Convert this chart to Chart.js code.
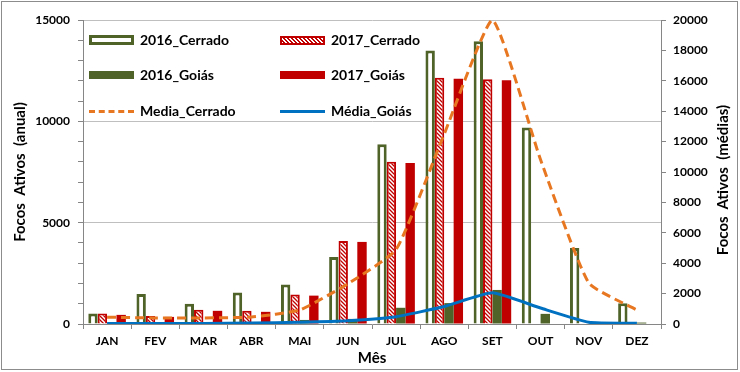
<!DOCTYPE html>
<html>
<head>
<meta charset="utf-8">
<script src="https://cdn.jsdelivr.net/npm/chart.js@4/dist/chart.umd.min.js"></script>
<style>
  body { margin: 0; background: #fff; overflow: hidden; }
  #wrap { position: relative; width: 740px; height: 372px; }
  #frame { position: absolute; left: 1px; top: 1px; width: 735px; height: 367px; border: 1px solid #8c8c8c; pointer-events: none; }
  .leg { position: absolute; font: bold 14px Lato, sans-serif; color: #000; white-space: nowrap; }
  .sw { position: absolute; }
  #rtitle { position: absolute; left: 722px; top: 180px; transform: translate(-50%, -50%) rotate(-90deg);
            font: bold 15px Lato, sans-serif; color: #000; white-space: pre; }
</style>
</head>
<body>
<div id="wrap">
  <canvas id="chart" width="740" height="372"></canvas>
  <div id="frame"></div>
  <div id="legend"></div>
  <div id="rtitle">Focos  Ativos  (médias)</div>
</div>
<script>
const months = ['JAN', 'FEV', 'MAR', 'ABR', 'MAI', 'JUN', 'JUL', 'AGO', 'SET', 'OUT', 'NOV', 'DEZ'];

// annual counts (left axis)
const cerrado2016 = [520, 1480, 1000, 1550, 1950, 3300, 8870, 13500, 13950, 9700, 3750, 1030];
const cerrado2017 = [520, 400, 700, 650, 1450, 4100, 8000, 12150, 12080, null, null, null];
const goias2016 = [60, 40, 100, 100, 200, 250, 800, 1030, 1680, 500, 20, 70];
const goias2017 = [450, 350, 650, 600, 1400, 4050, 7950, 12100, 12030, null, null, null];

// averages (right axis)
const mediaCerrado = [450, 400, 400, 460, 920, 2650, 4900, 12500, 20000, 10800, 2700, 920];
const mediaGoias = [30, 30, 40, 60, 120, 220, 480, 1150, 2050, 1050, 120, 50];

const green = '#4f6228';
const red = '#c00000';
const orange = '#e87722';
const blue = '#0070c0';
const axisGray = '#868686';
const gridGray = '#bfbfbf';

// red diagonal hatch for 2017_Cerrado
function hatch() {
  const c = document.createElement('canvas');
  c.width = 4; c.height = 4;
  const g = c.getContext('2d');
  g.fillStyle = '#fff';
  g.fillRect(0, 0, 4, 4);
  g.strokeStyle = red;
  g.lineWidth = 1.3;
  g.beginPath();
  g.moveTo(-1, -1); g.lineTo(5, 5);
  g.moveTo(-1, 3); g.lineTo(1, 5);
  g.moveTo(3, -1); g.lineTo(5, 1);
  g.stroke();
  return g.createPattern(c, 'repeat');
}
const hatchFill = hatch();

const tickFont = { family: 'Lato, sans-serif', size: 12, weight: 'bold' };
const titleFont = { family: 'Lato, sans-serif', size: 15, weight: 'bold' };

new Chart(document.getElementById('chart'), {
  data: {
    labels: months,
    datasets: [
      { type: 'line', label: 'Media_Cerrado', data: mediaCerrado, yAxisID: 'y1', order: 0,
        borderColor: orange, borderWidth: 3, borderDash: [9, 5], pointRadius: 0, tension: 0.15, fill: false },
      { type: 'line', label: 'Média_Goiás', data: mediaGoias, yAxisID: 'y1', order: 0,
        borderColor: blue, borderWidth: 3, pointRadius: 0, tension: 0.15, fill: false },
      { type: 'bar', label: '2016_Cerrado', data: cerrado2016, yAxisID: 'y', order: 1,
        backgroundColor: '#fff', borderColor: green, borderWidth: 3 },
      { type: 'bar', label: '2017_Cerrado', data: cerrado2017, yAxisID: 'y', order: 1,
        backgroundColor: hatchFill, borderColor: red, borderWidth: 2 },
      { type: 'bar', label: '2016_Goiás', data: goias2016, yAxisID: 'y', order: 1,
        backgroundColor: green },
      { type: 'bar', label: '2017_Goiás', data: goias2017, yAxisID: 'y', order: 1,
        backgroundColor: red }
    ]
  },
  options: {
    responsive: false,
    animation: false,
    layout: { padding: { top: 20, left: 0, right: 0, bottom: 0 } },
    datasets: { bar: { categoryPercentage: 0.78, barPercentage: 1 } },
    plugins: { legend: { display: false }, tooltip: { enabled: false } },
    scales: {
      x: {
        grid: { drawOnChartArea: false, tickLength: 5, color: axisGray, offset: true },
        border: { color: axisGray },
        ticks: { font: tickFont, color: '#000', padding: 5, maxRotation: 0 },
        title: { display: true, text: 'Mês', font: titleFont, color: '#000', padding: { top: 0, bottom: 5 } },
        afterFit: s => { s.height = 48; }
      },
      y: {
        position: 'left',
        min: 0, max: 15000,
        ticks: {
          stepSize: 1000, autoSkip: false, font: tickFont, color: '#000', padding: 8,
          callback: v => (v % 5000 === 0 ? String(v) : '')
        },
        grid: {
          tickLength: 5, tickColor: axisGray,
          color: c => (c.tick && c.tick.value % 5000 === 0 && c.tick.value > 0 ? gridGray : 'transparent')
        },
        border: { color: axisGray },
        title: { display: true, text: 'Focos  Ativos  (anual)', font: titleFont, color: '#000', padding: { top: 11, bottom: 0 } },
        afterFit: s => { s.width = 83; }
      },
      y1: {
        position: 'right',
        min: 0, max: 20000,
        ticks: { stepSize: 2000, autoSkip: false, font: tickFont, color: '#000', padding: 7, callback: v => String(v) },
        grid: { drawOnChartArea: false, tickLength: 5, color: axisGray },
        border: { color: axisGray },
        afterFit: s => { s.width = 79; }
      }
    }
  }
});

// legend in two columns, inside the plot
const legendItems = [
  { text: '2016_Cerrado', x: 89, y: 40, sw: 'border:3px solid ' + green + ';background:#fff;height:10px;' },
  { text: '2017_Cerrado', x: 280, y: 40, sw: 'border:2px solid ' + red + ';height:9px;background:repeating-linear-gradient(45deg,#fff 0 1.4px,' + red + ' 1.4px 2.8px);' },
  { text: '2016_Goiás', x: 89, y: 75, sw: 'background:' + green + ';height:8px;' },
  { text: '2017_Goiás', x: 280, y: 75, sw: 'background:' + red + ';height:8px;' },
  { text: 'Media_Cerrado', x: 89, y: 111, sw: 'height:0;border-top:3px dashed ' + orange + ';' },
  { text: 'Média_Goiás', x: 280, y: 111, sw: 'height:0;border-top:3px solid ' + blue + ';' }
];
const legend = document.getElementById('legend');
legendItems.forEach(it => {
  const sw = document.createElement('div');
  sw.className = 'sw';
  sw.style.cssText = it.sw + 'box-sizing:border-box;width:45px;';
  legend.appendChild(sw);
  const h = sw.offsetHeight || 3;
  sw.style.left = it.x + 'px';
  sw.style.top = (it.y - h / 2) + 'px';
  const t = document.createElement('div');
  t.className = 'leg';
  t.textContent = it.text;
  t.style.left = (it.x + 51) + 'px';
  t.style.top = (it.y - 9) + 'px';
  legend.appendChild(t);
});
</script>
</body>
</html>
